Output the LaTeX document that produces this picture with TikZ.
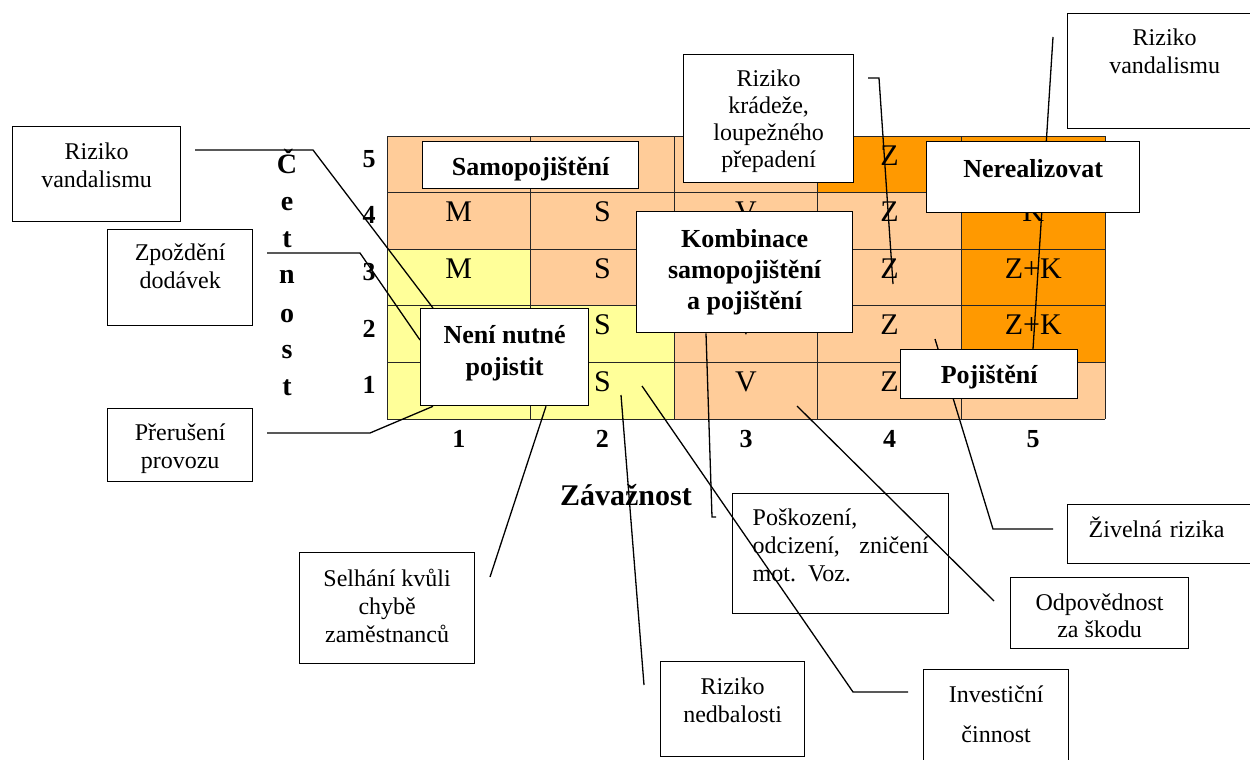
\documentclass[tikz,border=0pt]{standalone}
\usepackage{fontspec}
\setmainfont{Liberation Serif}
\usetikzlibrary{calc}

\definecolor{peach}{HTML}{FFCC99}
\definecolor{amber}{HTML}{FF9900}
\definecolor{lemon}{HTML}{FFFF99}

\pgfdeclarelayer{front}
\pgfsetlayers{main,front}

\begin{document}
\begin{tikzpicture}[
    x=1pt, y=-1pt,
    box/.style={draw, line width=1.3pt, fill=white, anchor=north west, inner xsep=4pt, inner ysep=0pt,
                align=center, font=\fontsize{24}{28}\selectfont},
    boldbox/.style={box, font=\fontsize{26}{31}\selectfont\bfseries},
    gridline/.style={line width=1pt, black!85},
    celltext/.style={anchor=base, inner sep=0pt, font=\fontsize{30}{34}\selectfont},
    axisnum/.style={anchor=base, inner sep=0pt, font=\fontsize{26}{30}\selectfont\bfseries},
    conn/.style={line width=1.3pt}
]
\useasboundingbox (0,0) rectangle (1250,760);

% Matrix cells
\fill[peach] (387,136) rectangle (1105,419);
\fill[amber] (817.8,136) rectangle (1105,192.6);
\fill[amber] (961.4,192.6) rectangle (1105,362.4);
\fill[lemon] (387,249.2) rectangle (530.6,419);
\fill[lemon] (530.6,305.8) rectangle (674.2,419);
\foreach \i in {0,...,5}
    \draw[gridline] ({387+143.6*\i},136) -- ({387+143.6*\i},419);
\foreach \j in {0,...,5}
    \draw[gridline] (387,{136+56.6*\j}) -- (1105,{136+56.6*\j});

% Cell entries (column/row/text)
\foreach \c/\r/\t in {4/5/Z, 1/4/M, 2/4/S, 3/4/V, 4/4/Z, 5/4/K, 1/3/M, 2/3/S, 4/3/Z, 5/3/Z+K,
                      2/2/S, 3/2/V, 4/2/Z, 5/2/Z+K, 2/1/S, 3/1/V, 4/1/Z}
    \node[celltext] (t\c\r) at ({387+143.6*(\c-0.5)},{136+56.6*(5-\r)+29}) {\t};

% Axis numbers and titles
\foreach \r/\yb in {5/167, 4/223, 3/280, 2/337, 1/393}
    \node[axisnum] (row\r) at (369,\yb) {\r};
\foreach \c in {1,...,5}
    \node[axisnum] (col\c) at ({387+143.6*(\c-0.5)},447) {\c};
\foreach \l/\yb [count=\k] in {Č/173, e/210, t/247, n/283, o/322, s/358, t/395}
    \node[anchor=base, inner sep=0pt, font=\fontsize{28}{30}\selectfont\bfseries] (cet\k) at (287,\yb) {\l};
\node[anchor=base, inner sep=0pt, font=\fontsize{30}{34}\selectfont\bfseries] (zav) at (626,505) {Závažnost};

% Risk boxes
\node[box, minimum width=168pt, text height=61pt, text depth=34pt] (vandL) at (12,126) {Riziko\\vandalismu};
\node[box, minimum width=145pt, text height=59pt, text depth=37pt] (zpozd) at (107,229) {Zpoždění\\dodávek};
\node[box, minimum width=145pt, text height=60pt, text depth=13pt] (prer) at (107,408) {Přerušení\\provozu};
\node[box, minimum width=170pt, text height=113pt, text depth=15pt, font=\fontsize{24}{27}\selectfont] (kradez) at (683,54) {Riziko\\krádeže,\\loupežného\\přepadení};
\node[box, minimum width=194pt, text height=60pt, text depth=55pt] (vandR) at (1067,13) {Riziko\\vandalismu};
\node[box, text width=160pt, inner xsep=21pt, align=left, text height=33pt, text depth=26pt] (ziv) at (1067,504) {Živelná rizika};
\node[box, minimum width=178pt, text height=60pt, text depth=11pt, font=\fontsize{24}{27}\selectfont] (odp) at (1010,577) {Odpovědnost\\za škodu};
\node[box, text width=176pt, inner xsep=20pt, align=left, text height=32pt, text depth=88pt] (posk) at (732,493)
    {Poškození,\\odcizení,\hskip 0pt plus 1filll zničení\\mot. Voz.};
\node[box, minimum width=175pt, text height=90pt, text depth=21pt] (selh) at (299,552) {Selhání kvůli\\chybě\\zaměstnanců};
\node[box, minimum width=144pt, text height=61pt, text depth=34pt] (nedb) at (660,661) {Riziko\\nedbalosti};
\node[box, minimum width=145pt, text height=73pt, text depth=27pt] (invest) at (923,669) {Investiční\\[12pt]činnost};

% Strategy boxes
\node[boldbox, minimum width=216pt, text height=34pt, text depth=13pt] (samo) at (422,141) {Samopojištění};
\node[boldbox, minimum width=168pt, text height=67pt, text depth=30pt, font=\fontsize{26}{32}\selectfont\bfseries] (neni) at (420,308) {Není nutné\\pojistit};
\node[boldbox, minimum width=216pt, text height=98pt, text depth=23pt] (komb) at (636,211) {Kombinace\\samopojištění\\a pojištění};
\begin{pgfonlayer}{front}
\node[boldbox, minimum width=213pt, text height=36pt, text depth=35pt] (nereal) at (926,141) {Nerealizovat};
\node[boldbox, minimum width=177pt, text height=34pt, text depth=15pt] (poj) at (900,349) {Pojištění};
\end{pgfonlayer}

% Free ends and bends of the leader lines
\coordinate (vandLout) at (195,150);  \coordinate (vandLbend) at (313,150);
\coordinate (zpozdout) at (267,253);  \coordinate (zpozdbend) at (360,253);
\coordinate (prerout) at (267,433);   \coordinate (prerbend) at (370,433);
\coordinate (selhout) at (490,577);
\coordinate (nedbout) at (644,685);   \coordinate (nedbend) at (621,395);
\coordinate (investout) at (908,692); \coordinate (investbend) at (853,692); \coordinate (investend) at (642,386);
\coordinate (poskout) at (716,517);   \coordinate (poskbend) at (712,517);
\coordinate (odpout) at (994,601);    \coordinate (odpend) at (797,406);
\coordinate (zivout) at (1053,529);   \coordinate (zivbend) at (993,529);   \coordinate (zivend) at (935,339);
\coordinate (kradout) at (868,78);    \coordinate (kradbend) at (879,78);   \coordinate (kradend) at (893,284);
\coordinate (vandRout) at (1053,37);

% Leader lines
\draw[conn] (vandLout) -- (vandLbend) -- ($(neni.north west)+(13,0)$);
\draw[conn] (zpozdout) -- (zpozdbend) -- ($(neni.north west)+(0,32)$);
\draw[conn] (prerout) -- (prerbend) -- ($(neni.south west)+(13,0)$);
\draw[conn] (selhout) -- ($(neni.south west)+(126,0)$);
\draw[conn] (nedbout) -- (nedbend);
\draw[conn] (investout) -- (investbend) -- (investend);
\draw[conn] (poskout) -- (poskbend) -- ($(komb.south west)+(70,0)$);
\draw[conn] (odpout) -- (odpend);
\draw[conn] (zivout) -- (zivbend) -- (zivend);
\draw[conn] (kradout) -- (kradbend) -- (kradend);
\draw[conn] (vandRout) -- ($(poj.north west)+(133,0)$);

\end{tikzpicture}
\end{document}
